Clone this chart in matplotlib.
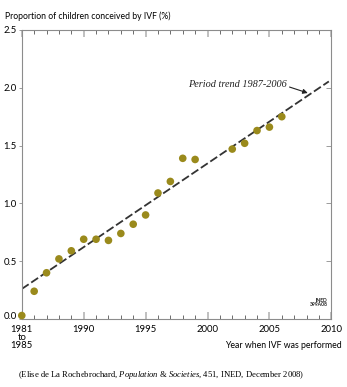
import numpy as np
import matplotlib.pyplot as plt
import matplotlib.transforms as mtransforms
from matplotlib.ticker import MultipleLocator

# Proportion of children conceived by IVF, by year the IVF was performed
years = [1985, 1986, 1987, 1988, 1989, 1990, 1991, 1992, 1993, 1994, 1995,
         1996, 1997, 1998, 1999, 2002, 2003, 2004, 2005, 2006]
ivf_share = [0.03, 0.24, 0.40, 0.52, 0.59, 0.69, 0.69, 0.68, 0.74, 0.82, 0.90,
             1.09, 1.19, 1.39, 1.38, 1.47, 1.52, 1.63, 1.66, 1.75]

# period trend 1987-2006, extended over the whole axis
trend_years = [1985, 2009.8]
trend_vals = [0.26, 2.055]

x_ticks = [1985, 1990, 1995, 2000, 2005, 2010]
x_ticklabels = ['1981\nto\n1985', '1990', '1995', '2000', '2005', '2010']
y_ticks = [0.0, 0.5, 1.0, 1.5, 2.0, 2.5]

olive = '#9a8a1c'
spine_grey = '#8c8c8c'

plt.rcParams['font.family'] = ['Lato', 'DejaVu Sans']
plt.rcParams['mathtext.fontset'] = 'custom'
plt.rcParams['mathtext.rm'] = 'Liberation Serif'
plt.rcParams['mathtext.it'] = 'Liberation Serif:italic'

fig = plt.figure(figsize=(3.47, 3.87), dpi=100)
ax = fig.add_axes([0.0628, 0.1757, 0.892, 0.7468])

ax.plot(trend_years, trend_vals, color='#333333', lw=1.3,
        dashes=(4.6, 1.7), zorder=2)
ax.scatter(years, ivf_share, s=30, color=olive, edgecolors='none',
           zorder=3, clip_on=False)

ax.set_xlim(1985, 2010)
ax.set_ylim(0, 2.5)

# x axis: yearly ticks inside, bottom and top
ax.set_xticks(x_ticks)
ax.set_xticklabels(x_ticklabels, fontsize=6.8, linespacing=0.85)
ax.xaxis.set_minor_locator(MultipleLocator(1))
ax.tick_params(axis='x', which='major', direction='in', length=5,
               color='#bbbbbb', width=1.3, top=True, pad=4.5)
ax.tick_params(axis='x', which='minor', direction='in', length=3,
               color='#555555', width=0.6, top=True)

# y axis: small ticks out on the left, in on the right
ax.set_yticks(y_ticks)
ax.set_yticklabels([f'{v:.1f}' for v in y_ticks], fontsize=6.8)
ax.tick_params(axis='y', which='major', direction='out', length=2,
               color=spine_grey, width=0.6, pad=1.5)
ax.tick_params(axis='y', which='major', right=True)
for t in ax.yaxis.get_major_ticks():
    t.tick2line.set_marker(0)  # inward on right spine
    t.tick2line.set_markersize(3.5)

# the 0.0 label sits a little above the axis, clear of "1981"
lab0 = ax.get_yticklabels()[0]
lab0.set_transform(lab0.get_transform() +
                   mtransforms.ScaledTranslation(0, 2.5 / 72, fig.dpi_scale_trans))

for sp in ax.spines.values():
    sp.set_color(spine_grey)
    sp.set_linewidth(0.8)

ax.annotate('Period trend 1987-2006', xy=(2008.1, 1.955), xytext=(2006.4, 2.03),
            fontsize=7.4, style='italic', family='Liberation Serif',
            ha='right', va='center', color='#222222',
            arrowprops=dict(arrowstyle='-|>', color='#222222', lw=0.8,
                            mutation_scale=7, shrinkA=0, shrinkB=0,
                            relpos=(1.0, 0.3)))

ax.text(2009.7, 0.1, 'INED\n399A08', fontsize=3.6, fontweight='bold',
        ha='right', va='bottom', linespacing=0.9, color='#222222')

fig.text(0.015, 0.958, 'Proportion of children conceived by IVF (%)',
         fontsize=6.2, ha='left', va='center')
fig.text(0.984, 0.108, 'Year when IVF was performed', fontsize=6.3,
         ha='right', va='center')
fig.text(0.052, 0.031,
         '(Elise de La Rochebrochard, $\\it{Population\\ &\\ Societies}$, '
         '451, INED, December 2008)',
         fontsize=6.2, family='Liberation Serif', ha='left', va='center')

fig.savefig('out.png', dpi=100)
